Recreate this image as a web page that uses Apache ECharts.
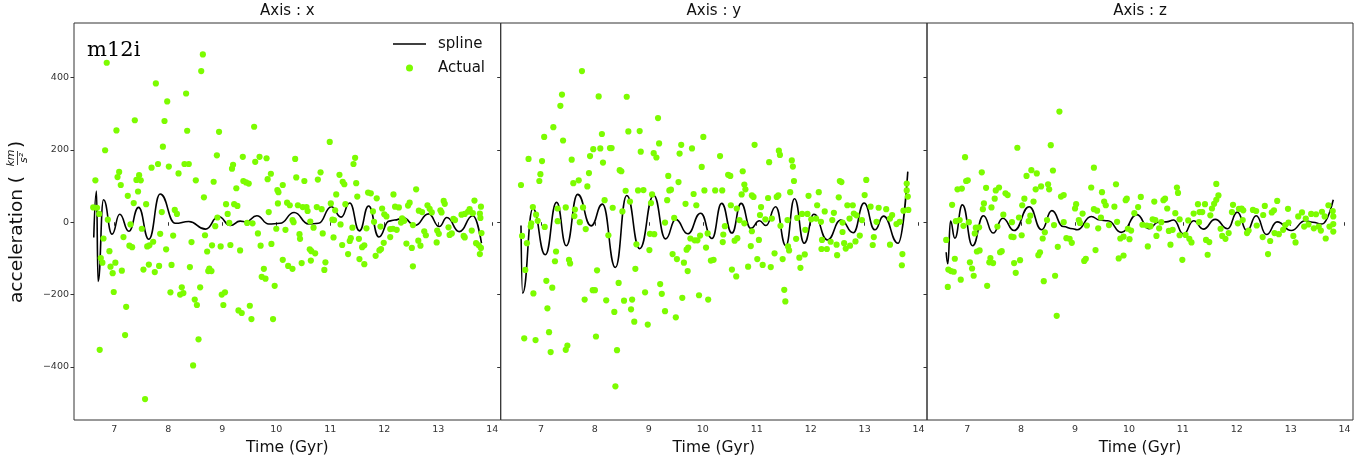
<!DOCTYPE html>
<html><head><meta charset="utf-8">
<script src="https://cdn.jsdelivr.net/npm/echarts@6/dist/echarts.min.js"></script>
<style>html,body{margin:0;padding:0;background:#fff}#c{width:1370px;height:463px}</style>
</head><body><div id="c"></div>
<script>
const xTicks=[7,8,9,10,11,12,13,14];
const yTicks=[-400,-200,0,200,400];
const panelTitles=['Axis : x','Axis : y','Axis : z'];
const xLabel='Time (Gyr)';
const simName='m12i';

const actualX=[[6.86,441],[8.64,464],[8.61,418],[7.77,384],[7.98,334],[8.33,356],[7.38,282],[7.93,280],[7.04,254],[8.35,253],[8.94,250],[9.59,264],[6.83,199],[7.90,209],[8.90,185],[9.38,181],[9.69,181],[9.82,177],[9.61,167],[7.81,161],[8.30,161],[8.38,161],[8.01,154],[7.69,151],[9.18,148],[9.20,159],[8.19,135],[9.90,134],[7.09,139],[7.06,125],[7.46,130],[7.41,117],[7.49,116],[6.65,116],[9.84,119],[8.51,116],[9.39,114],[9.44,110],[9.49,107],[8.84,112],[7.12,103],[9.26,94],[10.02,89],[10.04,83],[7.44,85],[7.25,73],[8.66,69],[7.59,50],[7.36,53],[9.07,50],[9.22,50],[9.28,45],[10.03,52],[6.61,41],[6.68,40],[6.72,23],[7.88,28],[8.12,34],[8.16,23],[9.10,23],[9.86,28],[6.88,7],[8.91,13],[9.13,-2],[9.46,-2],[9.56,-3],[7.30,-6],[7.51,-18],[8.87,-11],[10.0,-18],[6.80,-45],[7.17,-41],[7.85,-32],[8.09,-37],[8.68,-36],[9.66,-31],[7.61,-67],[7.65,-64],[7.72,-54],[7.28,-65],[7.33,-69],[6.91,-80],[7.96,-75],[8.43,-55],[8.72,-81],[8.81,-64],[8.97,-67],[9.15,-63],[9.33,-78],[9.71,-65],[9.91,-60],[6.75,-99],[6.78,-112],[6.93,-123],[7.02,-112],[6.97,-141],[7.14,-134],[7.54,-131],[7.64,-117],[7.75,-138],[7.83,-121],[8.06,-118],[8.40,-124],[8.76,-128],[8.74,-135],[8.80,-135],[9.77,-129],[9.73,-151],[9.80,-156],[6.99,-193],[8.04,-194],[8.25,-180],[8.22,-200],[8.28,-196],[8.49,-214],[8.53,-229],[8.59,-180],[8.99,-200],[9.05,-194],[9.02,-229],[9.30,-244],[9.36,-251],[9.51,-231],[9.54,-268],[9.97,-176],[9.94,-268],[7.22,-234],[7.20,-312],[6.73,-353],[8.56,-324],[8.46,-396],[7.57,-489],
[10.99,222],[10.35,175],[11.46,178],[11.43,161],[10.37,124],[10.82,138],[10.77,118],[10.52,114],[11.17,131],[11.23,112],[11.26,105],[11.48,108],[10.12,103],[12.59,91],[11.70,82],[11.75,80],[11.86,66],[12.17,77],[11.11,77],[11.50,71],[13.10,59],[13.12,51],[13.67,60],[10.20,54],[10.25,47],[10.40,47],[10.49,42],[10.56,42],[10.58,31],[10.75,42],[10.84,36],[11.01,52],[11.09,33],[11.28,50],[11.79,30],[11.96,38],[12.00,22],[12.04,16],[12.20,43],[12.27,41],[12.33,11],[12.47,54],[12.44,46],[12.64,32],[12.70,28],[12.80,47],[12.84,37],[12.88,27],[13.04,33],[13.06,27],[13.28,9],[13.43,21],[13.49,23],[13.55,29],[13.58,36],[13.64,25],[13.77,24],[13.79,43],[13.78,12],[10.30,6],[10.32,0],[10.63,2],[11.04,7],[11.07,6],[11.19,-6],[11.41,-15],[11.67,-17],[11.81,1],[11.93,-12],[12.11,-19],[12.16,-18],[12.23,-21],[12.31,-1],[12.37,4],[12.53,-8],[12.74,-25],[12.98,-23],[13.01,-32],[13.19,-14],[13.21,-35],[13.25,-31],[13.31,6],[13.47,-38],[13.49,-42],[13.62,-23],[13.80,-30],[10.17,-21],[10.43,-33],[10.44,-46],[10.69,-15],[10.86,-31],[11.06,-42],[11.22,-63],[11.36,-52],[11.38,-44],[11.53,-46],[11.59,-69],[11.63,-64],[11.94,-74],[11.99,-57],[12.11,-41],[12.41,-59],[12.51,-71],[12.63,-51],[12.67,-65],[12.77,-36],[12.97,-56],[13.70,-58],[13.75,-64],[13.79,-71],[13.77,-88],[10.62,-75],[10.65,-80],[10.72,-86],[10.12,-104],[10.22,-121],[10.30,-129],[10.47,-113],[10.64,-106],[10.91,-111],[10.89,-132],[11.33,-88],[11.54,-102],[11.63,-116],[11.84,-93],[11.91,-78],[12.53,-122]];

const actualY=[[7.76,418],[7.39,353],[7.36,322],[8.07,348],[8.59,347],[9.17,288],[7.23,263],[7.06,236],[8.13,244],[8.62,251],[8.83,252],[7.41,226],[9.19,218],[9.60,214],[9.80,204],[10.01,236],[7.97,202],[8.10,204],[8.28,205],[8.31,205],[7.91,183],[7.57,173],[6.77,175],[7.02,169],[8.15,165],[8.85,195],[9.09,191],[9.14,179],[9.57,190],[9.98,153],[8.46,144],[8.49,141],[6.99,133],[6.97,114],[7.89,136],[7.70,116],[7.60,108],[7.86,99],[6.63,103],[9.36,128],[9.55,111],[8.57,87],[8.80,88],[8.90,89],[9.38,88],[9.41,90],[9.83,78],[10.03,88],[10.23,88],[8.18,61],[8.65,57],[9.04,53],[9.06,77],[9.34,61],[9.68,51],[9.88,47],[6.85,42],[6.91,21],[6.82,-3],[6.81,-12],[6.94,4],[7.31,3],[7.46,41],[7.63,35],[7.62,17],[7.78,41],[7.72,0],[7.83,-19],[7.07,-13],[7.31,38],[8.33,40],[8.51,30],[6.65,-38],[6.74,-58],[6.71,-132],[8.25,-36],[9.02,-32],[9.10,-33],[9.30,-1],[9.47,12],[9.77,-45],[9.85,-50],[9.90,-50],[9.95,-37],[10.09,-31],[10.06,-70],[9.01,-77],[8.77,-61],[9.70,-76],[9.73,-70],[9.44,-88],[9.52,-102],[9.65,-112],[9.72,-135],[10.15,-106],[10.20,-104],[7.28,-81],[7.26,-108],[7.52,-104],[7.54,-114],[8.04,-133],[8.75,-129],[7.10,-162],[7.21,-181],[6.86,-197],[7.12,-238],[7.81,-214],[7.96,-188],[8.00,-188],[8.21,-216],[8.44,-168],[8.36,-248],[8.54,-217],[8.69,-214],[8.67,-241],[8.73,-275],[8.93,-194],[8.98,-283],[9.21,-171],[9.24,-198],[9.30,-246],[9.50,-263],[9.62,-209],[9.93,-202],[10.10,-214],[6.69,-321],[6.90,-326],[7.15,-304],[7.18,-359],[7.46,-353],[7.49,-341],[8.02,-316],[8.41,-354],[8.38,-454],
[10.96,214],[10.32,183],[11.41,198],[11.43,186],[11.23,166],[11.65,171],[11.67,154],[10.74,141],[10.77,104],[10.79,91],[10.47,131],[10.51,128],[11.69,114],[12.54,114],[12.57,111],[13.03,117],[10.36,88],[10.72,77],[10.91,74],[10.94,70],[11.37,70],[11.40,74],[11.62,83],[11.96,73],[12.15,83],[12.52,69],[13.00,75],[13.78,107],[13.78,88],[13.80,71],[10.52,47],[10.63,38],[11.08,42],[11.21,67],[12.12,47],[12.26,30],[12.43,26],[12.68,47],[12.78,47],[12.85,19],[13.11,43],[13.26,40],[13.40,36],[13.51,20],[13.72,32],[13.81,34],[10.68,6],[10.77,-3],[11.06,20],[11.16,8],[11.28,10],[11.57,6],[11.75,12],[11.84,23],[11.94,23],[12.01,8],[12.10,10],[12.19,1],[12.40,6],[12.59,-1],[12.72,10],[12.80,24],[12.95,6],[13.22,1],[13.47,10],[13.59,-5],[13.65,1],[10.41,-11],[10.38,-34],[10.37,-55],[10.59,-51],[10.64,-44],[10.91,-25],[10.89,-66],[11.04,-49],[11.44,-10],[11.58,-67],[11.60,-78],[11.73,-46],[11.90,-21],[11.79,-98],[11.89,-89],[11.33,-86],[11.48,-102],[12.21,-49],[12.20,-74],[12.30,-74],[12.37,-54],[12.48,-62],[12.59,-27],[12.62,-58],[12.65,-73],[12.73,-65],[12.83,-53],[12.91,-37],[12.49,-91],[13.15,-63],[13.17,-41],[13.47,-62],[13.70,-88],[13.69,-119],[10.54,-131],[10.62,-150],[10.84,-123],[11.01,-102],[11.11,-118],[11.26,-124],[11.81,-126],[11.51,-187],[11.53,-219]];

const actualZ=[[8.71,306],[7.93,206],[8.55,213],[6.96,180],[8.59,143],[9.35,151],[7.27,138],[8.19,144],[8.29,135],[8.10,128],[6.98,114],[7.01,116],[6.82,91],[6.90,93],[7.35,95],[7.53,88],[7.59,96],[7.71,80],[7.75,75],[8.27,91],[8.37,99],[8.50,105],[8.52,91],[8.74,71],[8.79,75],[9.30,96],[9.50,83],[9.76,105],[9.94,61],[9.96,65],[10.22,70],[6.72,48],[7.31,52],[7.51,65],[8.02,47],[8.06,65],[8.23,57],[9.02,50],[9.00,38],[9.14,24],[9.54,57],[9.57,47],[9.73,43],[9.35,36],[9.41,32],[10.17,42],[6.79,3],[6.86,6],[7.03,0],[6.93,-10],[7.16,-15],[7.22,-14],[7.29,36],[7.45,41],[7.67,21],[7.56,-12],[7.83,0],[7.96,13],[8.14,3],[8.17,18],[8.48,6],[8.61,-8],[8.79,0],[9.07,6],[9.09,-2],[9.22,-9],[9.43,-17],[9.48,13],[9.63,-8],[9.78,1],[9.98,-18],[10.04,-23],[10.10,25],[10.25,-7],[6.61,-49],[7.14,-31],[7.82,-40],[7.86,-41],[8.01,-36],[8.40,-45],[8.44,-28],[8.68,-68],[8.84,-44],[8.90,-46],[8.94,-57],[9.84,-45],[9.90,-40],[10.01,-47],[7.18,-81],[7.23,-78],[6.77,-101],[7.41,-111],[7.43,-99],[7.48,-113],[7.61,-83],[7.64,-80],[7.87,-113],[7.90,-140],[7.98,-105],[8.32,-91],[8.35,-83],[9.17,-107],[9.20,-101],[9.38,-77],[9.81,-100],[9.90,-92],[6.65,-131],[6.70,-135],[6.75,-137],[7.05,-111],[7.09,-128],[7.12,-148],[6.88,-159],[6.64,-179],[7.37,-176],[8.42,-163],[8.63,-148],[8.66,-259],
[11.62,106],[10.89,96],[10.91,81],[11.66,74],[11.62,62],[11.58,51],[11.54,38],[10.47,57],[10.64,61],[10.67,65],[10.71,38],[11.28,50],[11.41,50],[11.20,24],[11.31,28],[11.36,28],[11.51,19],[10.86,25],[10.94,8],[11.10,5],[11.93,48],[11.91,28],[12.04,37],[12.09,38],[12.12,33],[12.30,34],[12.36,31],[12.52,45],[12.49,20],[12.65,27],[12.69,33],[12.75,59],[12.95,37],[13.21,27],[13.14,16],[13.28,10],[13.38,23],[13.47,22],[13.58,29],[13.63,16],[13.70,47],[13.78,31],[13.79,16],[13.79,-5],[13.79,-26],[10.44,8],[10.49,6],[10.40,-11],[10.33,-9],[10.56,-17],[10.60,0],[10.51,-38],[10.74,-24],[10.81,-21],[10.94,-36],[11.05,-35],[11.12,-46],[11.16,-56],[10.35,-67],[10.77,-62],[10.99,-104],[11.30,0],[11.43,-49],[11.49,-55],[11.46,-90],[11.70,-18],[11.73,-38],[11.79,-46],[11.85,-30],[12.02,-3],[12.11,6],[12.19,-30],[12.22,-23],[12.37,-9],[12.48,-41],[12.58,-88],[12.62,-52],[12.70,-30],[12.78,-33],[12.86,-21],[12.90,-8],[12.96,-1],[13.05,-38],[13.09,-56],[13.25,-12],[13.33,-6],[13.43,-17],[13.52,-12],[13.56,-23],[13.65,-45],[13.72,-12]];

const splineX=[[6.62,-42],[6.67,86],[6.70,-164],[6.80,62],[6.96,-33],[7.10,22],[7.27,-25],[7.45,41],[7.64,-47],[7.85,78],[8.13,-3],[8.38,2],[8.69,-19],[8.93,16],[9.15,-9],[9.33,3],[9.44,1],[9.64,18],[9.86,-5],[10.07,-3],[10.33,27],[10.60,-5],[10.78,-3],[11.02,43],[11.20,14],[11.36,53],[11.54,-24],[11.71,45],[11.90,-41],[12.09,3],[12.19,6],[12.35,12],[12.57,-9],[12.82,23],[13.02,-12],[13.16,13],[13.39,-26],[13.64,18],[13.80,-58]];
const splineY=[[6.63,-9],[6.66,-196],[6.85,38],[7.08,-90],[7.29,55],[7.47,-65],[7.68,77],[7.93,-10],[8.14,50],[8.38,-125],[8.59,74],[8.83,-73],[9.09,74],[9.31,-46],[9.50,8],[9.72,-32],[9.96,25],[10.17,-45],[10.35,52],[10.54,-30],[10.71,52],[10.89,-17],[11.05,4],[11.17,-9],[11.35,43],[11.54,-65],[11.70,65],[11.88,-58],[12.06,22],[12.31,-49],[12.56,6],[12.79,-29],[12.99,53],[13.19,-21],[13.35,17],[13.62,-58],[13.80,140]];
const splineZ=[[6.61,-83],[6.64,-115],[6.69,3],[6.77,-44],[6.91,48],[7.10,-65],[7.30,18],[7.48,-30],[7.66,11],[7.87,-23],[8.15,43],[8.38,-21],[8.57,32],[8.78,-12],[8.96,-18],[9.04,-21],[9.30,16],[9.46,6],[9.61,4],[9.86,-28],[10.15,21],[10.37,-18],[10.54,0],[10.69,1],[10.83,6],[11.01,-33],[11.20,4],[11.38,-19],[11.60,8],[11.83,-18],[12.01,28],[12.19,-24],[12.36,18],[12.55,-34],[12.75,1],[13.01,-23],[13.27,4],[13.41,0],[13.58,-5],[13.79,62]];

const actualAll=[actualX,actualY,actualZ];
const splineAll=[splineX,splineY,splineZ];

const FONT='"DejaVu Sans", sans-serif';
const TOP=23, HEIGHT=397;
const panels=[{left:74,width:426.7},{left:500.7,width:426.3},{left:927,width:426}];
const XMIN=6.254, XMAX=14.156, YMIN=-547, YMAX=551;
const minusFmt=v=>v<0?'\u2212'+(-v):String(v);

const grid=[],xAxis=[],yAxis=[],series=[],graphic=[];
panels.forEach((p,i)=>{
  grid.push({left:p.left,top:TOP,width:p.width,height:HEIGHT,show:true,borderColor:'#333',borderWidth:1,backgroundColor:'transparent',containLabel:false});
  xAxis.push({type:'value',gridIndex:i,min:XMIN,max:XMAX,
    name:xLabel,nameLocation:'middle',nameGap:19,nameTextStyle:{fontFamily:FONT,fontSize:15.5,color:'#111',verticalAlign:'top'},
    axisLine:{show:false},splitLine:{show:false},
    axisTick:{show:true,length:3.5,customValues:xTicks,lineStyle:{color:'#333',width:1}},
    axisLabel:{customValues:xTicks,fontFamily:FONT,fontSize:9.5,color:'#333',margin:5}});
  yAxis.push({type:'value',gridIndex:i,min:YMIN,max:YMAX,
    axisLine:{show:false},splitLine:{show:false},
    axisTick:{show:true,length:3.5,customValues:yTicks,lineStyle:{color:'#333',width:1}},
    axisLabel:{show:i===0,customValues:yTicks,formatter:minusFmt,fontFamily:FONT,fontSize:9.5,color:'#333',margin:5}});
  series.push({type:'line',name:'spline',xAxisIndex:i,yAxisIndex:i,data:splineAll[i],smooth:0.5,smoothMonotone:'x',
    symbol:'none',lineStyle:{color:'#000',width:1.6},itemStyle:{color:'#000'},z:2,silent:true,animation:false});
  series.push({type:'scatter',name:'Actual',xAxisIndex:i,yAxisIndex:i,data:actualAll[i],symbolSize:6.2,
    itemStyle:{color:'#7cfc00',opacity:1},z:3,silent:true,animation:false});
  graphic.push({type:'text',x:p.left+p.width/2,y:11.5,style:{text:panelTitles[i],font:'15px '+FONT,fill:'#111',align:'center',verticalAlign:'middle'}});
});

graphic.push({type:'text',x:87,y:50.5,style:{text:simName,font:'21px "DejaVu Serif", serif',fill:'#000',align:'left',verticalAlign:'middle'}});
graphic.push({type:'group',x:17,y:222,rotation:Math.PI/2,children:[
  {type:'text',x:-81,y:0,style:{text:'acceleration (',font:'18.5px '+FONT,fill:'#111',align:'left',verticalAlign:'middle'}},
  {type:'text',x:64,y:-6,style:{text:'km',font:'italic 11px '+FONT,fill:'#111',align:'center',verticalAlign:'middle'}},
  {type:'line',shape:{x1:57,y1:0.5,x2:71,y2:0.5},style:{stroke:'#111',lineWidth:0.8}},
  {type:'text',x:64,y:7,style:{text:'s\u00B2',font:'italic 11px '+FONT,fill:'#111',align:'center',verticalAlign:'middle'}},
  {type:'text',x:74,y:0,style:{text:')',font:'18.5px '+FONT,fill:'#111',align:'left',verticalAlign:'middle'}}
]});

const chart=echarts.init(document.getElementById('c'),null,{renderer:'canvas'});
chart.setOption({
  animation:false,
  backgroundColor:'#fff',
  grid,xAxis,yAxis,series,graphic,
  legend:{data:[{name:'spline',icon:'path://M0 0H33V1.6H0Z',itemStyle:{color:'#000'}},{name:'Actual',icon:'circle'}],
    orient:'vertical',left:393,top:36,padding:0,itemWidth:33,itemHeight:7,itemGap:8,selectedMode:false,
    textStyle:{fontFamily:FONT,fontSize:15,color:'#111',lineHeight:16,padding:[0,0,0,7]}}
});
</script></body></html>
